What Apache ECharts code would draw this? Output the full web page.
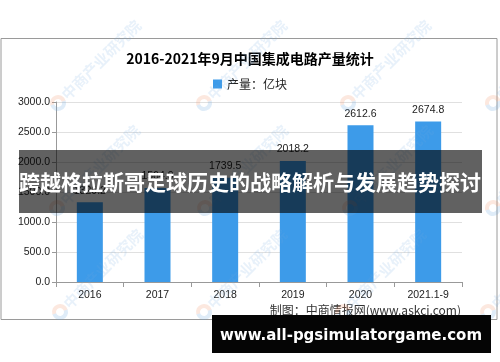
<!DOCTYPE html>
<html><head><meta charset="utf-8">
<script src="https://cdn.jsdelivr.net/npm/echarts@6/dist/echarts.min.js"></script>
<style>html,body{margin:0;padding:0;background:#fff}#c{width:500px;height:362px}</style>
</head><body><div id="c"></div>
<script>
const categories = ['2016','2017','2018','2019','2020','2021.1-9'];
const production = [1329.2, 1564.9, 1739.5, 2018.2, 2612.6, 2674.8];
const yTicks = [0, 500, 1000, 1500, 2000, 2500, 3000];
const titleText = '2016-2021年9月中国集成电路产量统计';
const seriesName = '产量：亿块';
const sourceText = '制图：中商情报网(www.askci.com)';
const bannerText = '跨越格拉斯哥足球历史的战略解析与发展趋势探讨';
const urlText = 'www.all-pgsimulatorgame.com';

const cjk = '"Noto Sans CJK SC", sans-serif';
const num = '"Liberation Sans", Arial, sans-serif';
const wmPos = [[58,103],[204,103],[348,103],[493,103],[57,208],[205,208],[350,208],[493,208],[60,312],[204,312],[343,312],[488,312]];
const wm = [];
wmPos.forEach(p => {
  wm.push({type:'arc', shape:{cx:p[0], cy:p[1], r:6, startAngle:Math.PI*0.9, endAngle:Math.PI*1.9}, style:{fill:'none', stroke:'rgba(240,150,110,0.22)', lineWidth:4}, z:50, silent:true});
  wm.push({type:'arc', shape:{cx:p[0], cy:p[1], r:6, startAngle:Math.PI*1.9, endAngle:Math.PI*2.9}, style:{fill:'none', stroke:'rgba(110,170,225,0.22)', lineWidth:4}, z:50, silent:true});
  wm.push({type:'text', x:p[0]+6, y:p[1]-6, rotation:Math.PI/4, style:{text:'中商产业研究院', fill:'rgba(110,170,225,0.16)', font:'bold 15px "Noto Sans CJK SC"', textVerticalAlign:'middle'}, z:50, silent:true});
});

const chart = echarts.init(document.getElementById('c'));
chart.setOption({
  animation:false,
  title:{text:titleText, left:'center', top:47, textStyle:{fontSize:14, fontWeight:'bold', color:'#000', fontFamily:cjk}},
  legend:{data:[seriesName], top:73, left:'center', itemWidth:9, itemHeight:9, icon:'rect', itemGap:4, textStyle:{fontSize:12, color:'#222', fontFamily:cjk}},
  grid:{left:56, right:38, top:102, bottom:80},
  xAxis:{type:'category', data:categories,
    axisLine:{lineStyle:{color:'#999'}},
    axisTick:{show:true, alignWithLabel:false, length:5, lineStyle:{color:'#999'}},
    axisLabel:{color:'#222', fontSize:10.5, margin:8, fontFamily:num}},
  yAxis:{type:'value', min:yTicks[0], max:yTicks[yTicks.length-1], interval:500,
    axisLine:{show:true, lineStyle:{color:'#999'}},
    axisTick:{show:true, length:4, lineStyle:{color:'#999'}},
    splitLine:{lineStyle:{color:'#e0e0e0'}},
    axisLabel:{color:'#222', fontSize:10.5, margin:6, fontFamily:num, formatter:v=>v.toFixed(1)}},
  series:[{name:seriesName, type:'bar', data:production, barWidth:26,
    itemStyle:{color:'#3d9be9'},
    label:{show:true, position:'top', distance:6, color:'#222', fontSize:10.5, fontFamily:num, formatter:p=>p.value.toFixed(1)}}],
  graphic:[
    {type:'rect', shape:{x:1, y:38.5, width:496, height:281}, style:{fill:'none', stroke:'#9a9a9a', lineWidth:1}, z:1, silent:true},
    {type:'text', right:39, top:304, style:{text:sourceText, fill:'#333', font:'12px "Noto Sans CJK SC"'}, z:10},
    ...wm,
    {type:'rect', shape:{x:19, y:150, width:463, height:63}, style:{fill:'rgba(0,0,0,0.62)'}, z:100},
    {type:'text', x:250, y:182, style:{text:bannerText, fill:'#fff', font:'bold 21px "Noto Sans CJK SC"', textAlign:'center', textVerticalAlign:'middle'}, z:101},
    {type:'rect', shape:{x:212, y:315, width:279, height:38}, style:{fill:'#050505'}, z:100},
    {type:'text', x:351, y:336, style:{text:urlText, fill:'#fff', font:'bold 15px "DejaVu Sans"', textAlign:'center', textVerticalAlign:'middle'}, z:101}
  ]
});
</script></body></html>
